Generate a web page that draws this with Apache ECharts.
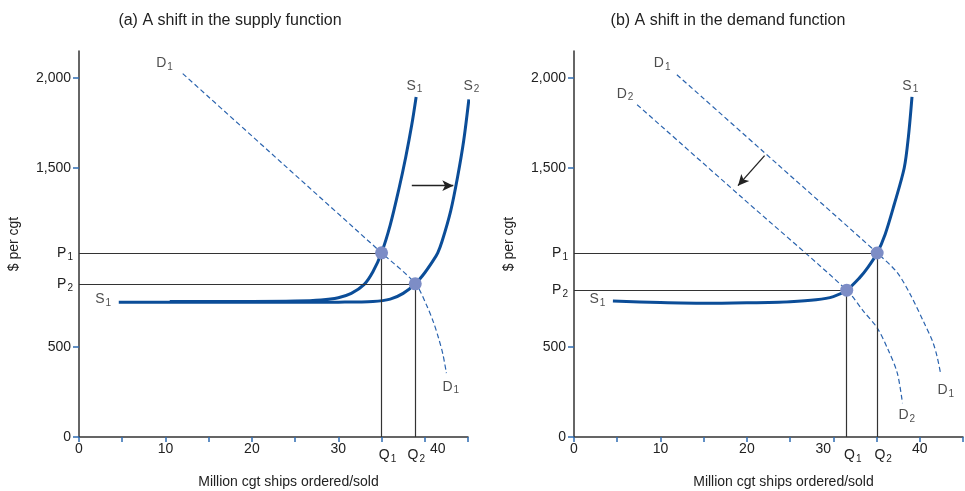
<!DOCTYPE html>
<html><head><meta charset="utf-8">
<script src="https://cdn.jsdelivr.net/npm/echarts@6/dist/echarts.min.js"></script>
<style>html,body{margin:0;padding:0;background:#fff}#c{width:965px;height:491px}</style>
</head><body><div id="c"></div>
<script>
// ---- data ----
const xLabelValues = [0, 10, 20, 30, 40];
const yLabelValues = [0, 500, 1500, 2000];

// Panel (a): shift in supply
const aS1 = [[10.5,755],[20,755],[25,757],[28,763],[30,776],[31.5,800],[33,850],[34,920],[35,1026],[36,1180],[37,1380],[37.8,1560],[38.5,1740],[39,1894]];
const aS2 = [[4.6,750],[15,750],[25,750],[30,751],[34,755],[36,768],[37.5,800],[38.9,853],[40,915],[41,985],[41.5,1026],[42,1090],[43,1260],[43.8,1450],[44.5,1650],[45.1,1880]];
const aD1 = [[12,2024],[23.5,1525],[35,1026],[38.9,855],[40.2,735],[41,640],[41.6,550],[42.1,460],[42.5,356]];
const aEq = [[35,1026],[38.9,853]];
const aP = ['P1','P2'];
const aQ = ['Q1','Q2'];
const aArrow = [[38.5,1400],[43.3,1400]];
const aLabels = [[9.9,2080,'D1'],[38.8,1957,'S1'],[45.4,1957,'S2'],[2.8,766,'S1'],[43.0,280,'D1']];

// Panel (b): shift in demand
const bS1 = [[4.5,757],[10,749],[15,745],[20,748],[25,754],[28,764],[30,782],[31.55,818],[33,885],[34,945],[35.07,1025],[36,1130],[37,1288],[38.2,1498],[38.7,1680],[39.1,1894]];
const bD1 = [[11.9,2018],[23.5,1521],[35.07,1025],[37.4,915],[39,785],[40.5,636],[41.5,530],[42,449],[42.4,356]];
const bD2 = [[7.3,1851],[19.4,1335],[31.55,818],[33.5,700],[35.07,608],[36.3,490],[37.4,356],[38,188]];
const bEq = [[31.55,818],[35.07,1025]];
const bP = ['P2','P1'];
const bQ = ['Q1','Q2'];
const bArrow = [[22.05,1567],[18.97,1400]];
const bLabels = [[10.2,2080,'D1'],[5.9,1912,'D2'],[38.9,1957,'S1'],[2.7,766,'S1'],[43.0,263,'D1'],[38.5,123,'D2']];

const titles = ['(a) A shift in the supply function', '(b) A shift in the demand function'];
const xName = 'Million cgt ships ordered/sold';
const yName = '$ per cgt';

// ---- styles ----
const FONT = 'Liberation Sans, Arial, sans-serif';
const TXT = '#222';
const SOLID = '#0b4d98';
const DASH = '#2a63ae';
const TICK = '#2f6cb3';
const DOT = '#7d8dc6';

function mkRich(padLeft) {
  return {
    m: {fontSize: 14, color: TXT, fontFamily: FONT, padding: [0, 0, 0, padLeft]},
    s: {fontSize: 10, color: TXT, fontFamily: FONT, padding: [8, 0, 0, 1]}
  };
}
const rich = mkRich(0);
function sub(t) { return '{m|' + t[0] + '}{s|' + t.slice(1) + '}'; }

function xAxis(gi, shiftV, shiftPad) {
  return {
    type: 'value', gridIndex: gi, min: 0, max: 45, interval: 5,
    name: xName, nameLocation: 'middle', nameGap: 38,
    nameTextStyle: {fontSize: 14, color: TXT, fontFamily: FONT, padding: [0, 0, 0, 30]},
    axisLine: {lineStyle: {color: '#333', width: 1.5}},
    axisTick: {show: true, length: 5, lineStyle: {color: TICK, width: 1.5}},
    axisLabel: {customValues: xLabelValues, fontSize: 14, color: TXT, fontFamily: FONT, margin: 5,
      formatter: v => (v === shiftV) ? '{r|' + v + '}' : String(v),
      rich: {r: {fontSize: 14, color: TXT, fontFamily: FONT, padding: shiftPad}}},
    splitLine: {show: false}
  };
}
function yAxis(gi) {
  return {
    type: 'value', gridIndex: gi, min: 0, max: 2150, interval: 500,
    name: yName, nameLocation: 'middle', nameGap: 58, nameRotate: 90,
    nameTextStyle: {fontSize: 14, color: TXT, fontFamily: FONT},
    axisLine: {show: true, lineStyle: {color: '#333', width: 1.5}},
    axisTick: {show: true, length: 6, customValues: yLabelValues, lineStyle: {color: TICK, width: 1.5}},
    axisLabel: {customValues: yLabelValues, fontSize: 14, color: TXT, fontFamily: FONT, margin: 8,
      formatter: v => v.toLocaleString('en-US')},
    splitLine: {show: false}
  };
}
function solidLine(data, i) {
  return {type: 'line', xAxisIndex: i, yAxisIndex: i, data: data, showSymbol: false, symbol: 'none',
    smooth: 0.3, clip: false, z: 4,
    lineStyle: {color: SOLID, width: 3}};
}
function dashLine(data, i) {
  return {type: 'line', xAxisIndex: i, yAxisIndex: i, data: data, showSymbol: false, symbol: 'none',
    smooth: 0.3, clip: false, z: 3,
    lineStyle: {color: DASH, width: 1.2, type: [5, 3]}};
}
function guides(eq, pNames, qNames, arrow, i, qPads) {
  const md = [];
  eq.forEach((p, k) => {
    md.push([{coord: [0, p[1]], label: {show: true, position: 'start', distance: 6, formatter: sub(pNames[k]), rich: rich}},
             {coord: [p[0], p[1]]}]);
    md.push([{coord: [p[0], 0], label: {show: true, position: 'start', distance: 9, formatter: sub(qNames[k]), rich: mkRich(qPads[k])}},
             {coord: [p[0], p[1]]}]);
  });
  const arrowLine = [{coord: arrow[0], symbol: 'none', lineStyle: {color: '#222', width: 1.3},
      label: {show: false}}, {coord: arrow[1], symbol: 'arrow', symbolSize: [8, 11]}];
  md.push(arrowLine);
  return {type: 'line', xAxisIndex: i, yAxisIndex: i, data: [], z: 2,
    markLine: {silent: true, symbol: 'none', animation: false,
      lineStyle: {color: '#333', width: 1.2, type: 'solid'},
      label: {show: false}, data: md}};
}
function eqPoints(data, i) {
  return {type: 'scatter', xAxisIndex: i, yAxisIndex: i, data: data, symbolSize: 13, z: 6,
    itemStyle: {color: DOT, opacity: 1}};
}
function labels(data, i) {
  return {type: 'scatter', xAxisIndex: i, yAxisIndex: i, data: data, symbolSize: 0, clip: false, z: 7,
    label: {show: true, position: 'inside', formatter: p => sub(p.data[2]), rich: rich}};
}

const option = {
  animation: false,
  backgroundColor: '#fff',
  textStyle: {fontFamily: FONT},
  title: [
    {text: titles[0], left: 225, top: 8, textAlign: 'center', textStyle: {fontSize: 16, fontWeight: 'normal', color: TXT, fontFamily: FONT}},
    {text: titles[1], left: 723, top: 8, textAlign: 'center', textStyle: {fontSize: 16, fontWeight: 'normal', color: TXT, fontFamily: FONT}}
  ],
  grid: [
    {left: 79, right: 497, top: 51, bottom: 54, outerBoundsMode: 'none', containLabel: false},
    {left: 574, right: 2, top: 51, bottom: 54, outerBoundsMode: 'none', containLabel: false}
  ],
  xAxis: [xAxis(0, 40, [0, 0, 0, 26]), xAxis(1, 30, [0, 20, 0, 0])],
  yAxis: [yAxis(0), yAxis(1)],
  series: [
    guides(aEq, aP, aQ, aArrow, 0, [12, 2]),
    dashLine(aD1, 0),
    solidLine(aS2, 0),
    solidLine(aS1, 0),
    eqPoints(aEq, 0),
    labels(aLabels, 0),
    guides(bEq, bP, bQ, bArrow, 1, [12, 12]),
    dashLine(bD1, 1),
    dashLine(bD2, 1),
    solidLine(bS1, 1),
    eqPoints(bEq, 1),
    labels(bLabels, 1)
  ]
};
echarts.init(document.getElementById('c'), null, {renderer: 'canvas'}).setOption(option);
</script>
</body></html>
